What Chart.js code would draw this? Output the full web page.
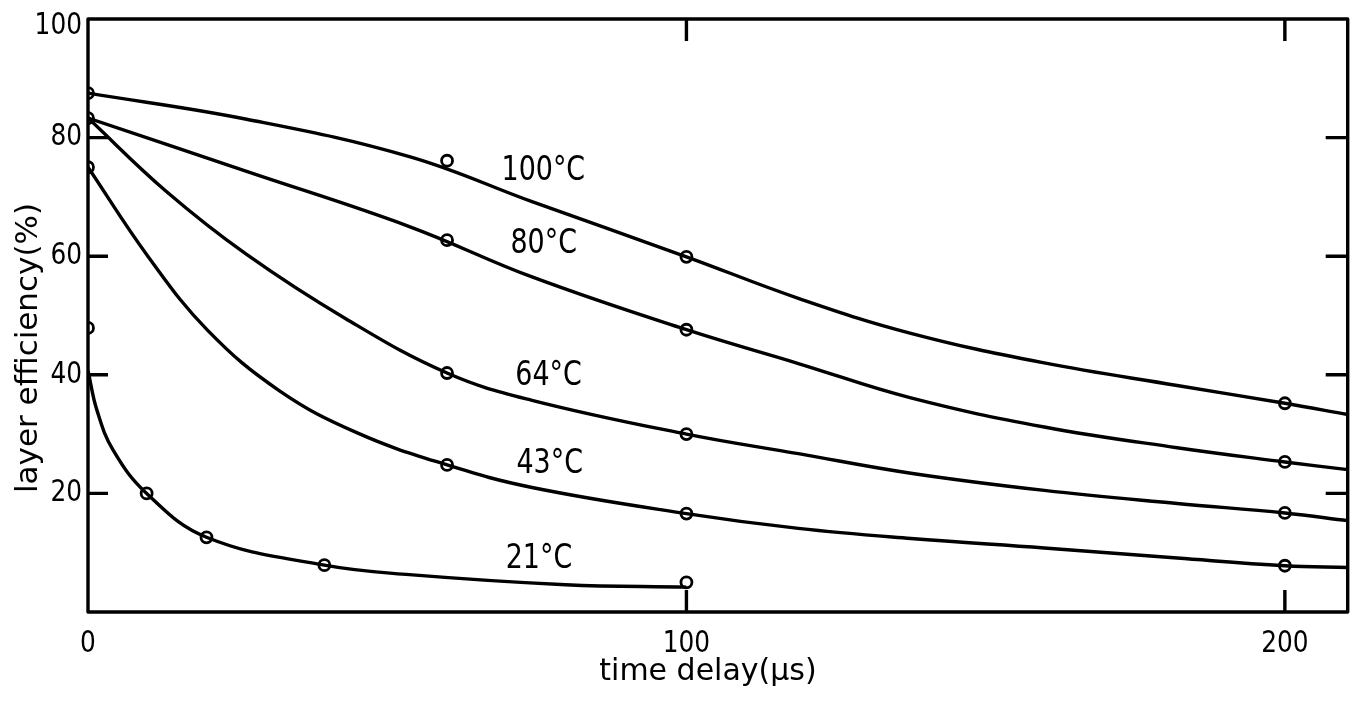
<!DOCTYPE html>
<html>
<head>
<meta charset="utf-8">
<title>layer efficiency</title>
<script src="https://cdn.jsdelivr.net/npm/chart.js@4.4.1/dist/chart.umd.min.js"></script>
<style>
    html, body { margin: 0; padding: 0; background: #fff; }
    #box { width: 1356px; height: 704px; }
</style>
</head>
<body>
<div id="box"><canvas id="grafico" width="1356" height="704"></canvas></div>
<script>
(function () {

    // axis ticks
    var xTicks = [0, 100, 200];
    var yTicks = [20, 40, 60, 80, 100];
    var xMax = 210.5;

    // hand drawn curves, [time delay (us), layer efficiency (%)]
    var curve100 = [[0, 87.5], [26.5, 83.1], [53.7, 76.8], [74.2, 69.2], [100, 59.9], [118.7, 52.9], [137.5, 47.0], [159.8, 42.0], [182, 38.2], [200, 35.2], [210.5, 33.3]];
    var curve80  = [[0, 83.3], [26.5, 74.3], [53.7, 65.0], [74.2, 56.5], [100, 47.6], [118.7, 41.9], [137.5, 36.1], [159.8, 31.2], [182, 27.7], [200, 25.3], [210.5, 24.0]];
    var curve64  = [[0, 83.3], [13, 71.0], [26.5, 60.3], [43, 49.5], [60, 40.3], [74.2, 35.7], [100, 30.0], [118.7, 26.7], [137.5, 23.4], [159.8, 20.5], [182, 18.3], [200, 16.7], [210.5, 15.4]];
    var curve43  = [[0, 75.0], [10, 60.0], [20, 47.5], [32, 37.3], [45, 30.2], [60, 24.8], [74.2, 21.0], [100, 16.6], [118.7, 14.1], [137.5, 12.4], [159.8, 10.8], [182, 9.1], [200, 7.8], [210.5, 7.5]];
    var curve21  = [[0, 40.7], [1.5, 34.0], [4.2, 27.3], [9.8, 20.0], [19.8, 12.6], [39.5, 7.9], [53.7, 6.3], [79.8, 4.6], [100, 4.2]];

    // measured points (circles)
    var pontos100 = [[0, 87.5], [60, 76.1], [100, 59.9], [200, 35.2]];
    var pontos80  = [[0, 83.3], [60, 62.7], [100, 47.6], [200, 25.3]];
    var pontos64  = [[60, 40.3], [100, 30.0], [200, 16.7]];
    var pontos43  = [[0, 75.0], [60, 24.8], [100, 16.6], [200, 7.8]];
    var pontos21  = [[0, 47.9], [9.8, 20.0], [19.8, 12.6], [39.5, 7.9], [100, 5.0]];

    // curve labels and where their text starts (data units)
    var rotulos   = ['100°C', '80°C', '64°C', '43°C', '21°C'];
    var rotuloPos = [[69.1, 72.8], [70.6, 60.5], [71.4, 38.3], [71.6, 23.4], [69.8, 7.4]];

    var estreita = "'DejaVu Sans Condensed', 'DejaVu Sans', sans-serif";
    var larga = "'DejaVu Sans', sans-serif";

    function xy(lista) {
        return lista.map(function (p) { return {x: p[0], y: p[1]}; });
    }

    function linha(lista) {
        return {
            type: 'line',
            data: xy(lista),
            borderColor: '#000',
            borderWidth: 3.4,
            pointRadius: 0,
            fill: false,
            tension: 0.4
        };
    }

    function marcas(lista) {
        return {
            type: 'scatter',
            data: xy(lista),
            showLine: false,
            pointRadius: 5.5,
            pointBorderWidth: 2.8,
            pointBorderColor: '#000',
            pointBackgroundColor: '#fff'
        };
    }

    // text squeezed sideways, the figure uses narrow lettering
    function texto(ctx, t, x, y, escala) {
        ctx.save();
        ctx.translate(x, y);
        ctx.scale(escala, 1);
        ctx.fillText(t, 0, 0);
        ctx.restore();
    }

    // box, inward ticks, tick labels, titles and curve labels
    var moldura = {
        id: 'moldura',
        afterDatasetsDraw: function (chart) {
            var ctx = chart.ctx;
            var a = chart.chartArea;
            var sx = chart.scales.x, sy = chart.scales.y;
            ctx.save();
            ctx.strokeStyle = '#000';
            ctx.lineWidth = 3.4;
            ctx.lineJoin = 'round';
            ctx.strokeRect(a.left, a.top, a.right - a.left, a.bottom - a.top);

            ctx.beginPath();
            yTicks.forEach(function (v) {
                if (v >= 100) return;
                var py = sy.getPixelForValue(v);
                ctx.moveTo(a.left, py); ctx.lineTo(a.left + 20, py);
                ctx.moveTo(a.right, py); ctx.lineTo(a.right - 22, py);
            });
            xTicks.forEach(function (v) {
                if (v <= 0) return;
                var px = sx.getPixelForValue(v);
                ctx.moveTo(px, a.top); ctx.lineTo(px, a.top + 22);
                ctx.moveTo(px, a.bottom); ctx.lineTo(px, a.bottom - 22);
            });
            ctx.stroke();

            ctx.fillStyle = '#000';

            // tick labels
            ctx.font = '30px ' + estreita;
            ctx.textBaseline = 'middle';
            ctx.textAlign = 'right';
            yTicks.forEach(function (v) {
                var py = Math.max(sy.getPixelForValue(v), a.top + 7);
                texto(ctx, String(v), a.left - 6, py, 0.92);
            });
            ctx.textAlign = 'center';
            xTicks.forEach(function (v) {
                texto(ctx, String(v), sx.getPixelForValue(v), a.bottom + 32, 0.92);
            });

            // curve labels
            ctx.font = '34px ' + estreita;
            ctx.textBaseline = 'alphabetic';
            ctx.textAlign = 'left';
            rotulos.forEach(function (t, i) {
                texto(ctx, t, sx.getPixelForValue(rotuloPos[i][0]), sy.getPixelForValue(rotuloPos[i][1]), 0.88);
            });

            // axis titles
            ctx.font = '30px ' + larga;
            ctx.textAlign = 'center';
            ctx.fillText('time delay(\u03bcs)', 708, 680);

            ctx.font = '31px ' + larga;
            ctx.translate(37, 348);
            ctx.rotate(-Math.PI / 2);
            ctx.fillText('layer efficiency(%)', 0, 0);
            ctx.restore();
        }
    };

    var ctx = document.getElementById('grafico').getContext('2d');
    new Chart(ctx, {
        data: {
            datasets: [
                linha(curve100), linha(curve80), linha(curve64), linha(curve43), linha(curve21),
                marcas(pontos100), marcas(pontos80), marcas(pontos64), marcas(pontos43), marcas(pontos21)
            ]
        },
        options: {
            responsive: false,
            animation: false,
            devicePixelRatio: 1,
            layout: {padding: {left: 88, top: 19, right: 4, bottom: 92}},
            plugins: {legend: {display: false}, tooltip: {enabled: false}},
            scales: {
                x: {type: 'linear', display: false, min: 0, max: xMax},
                y: {type: 'linear', display: false, min: 0, max: 100}
            }
        },
        plugins: [moldura]
    });

})();
</script>
</body>
</html>
